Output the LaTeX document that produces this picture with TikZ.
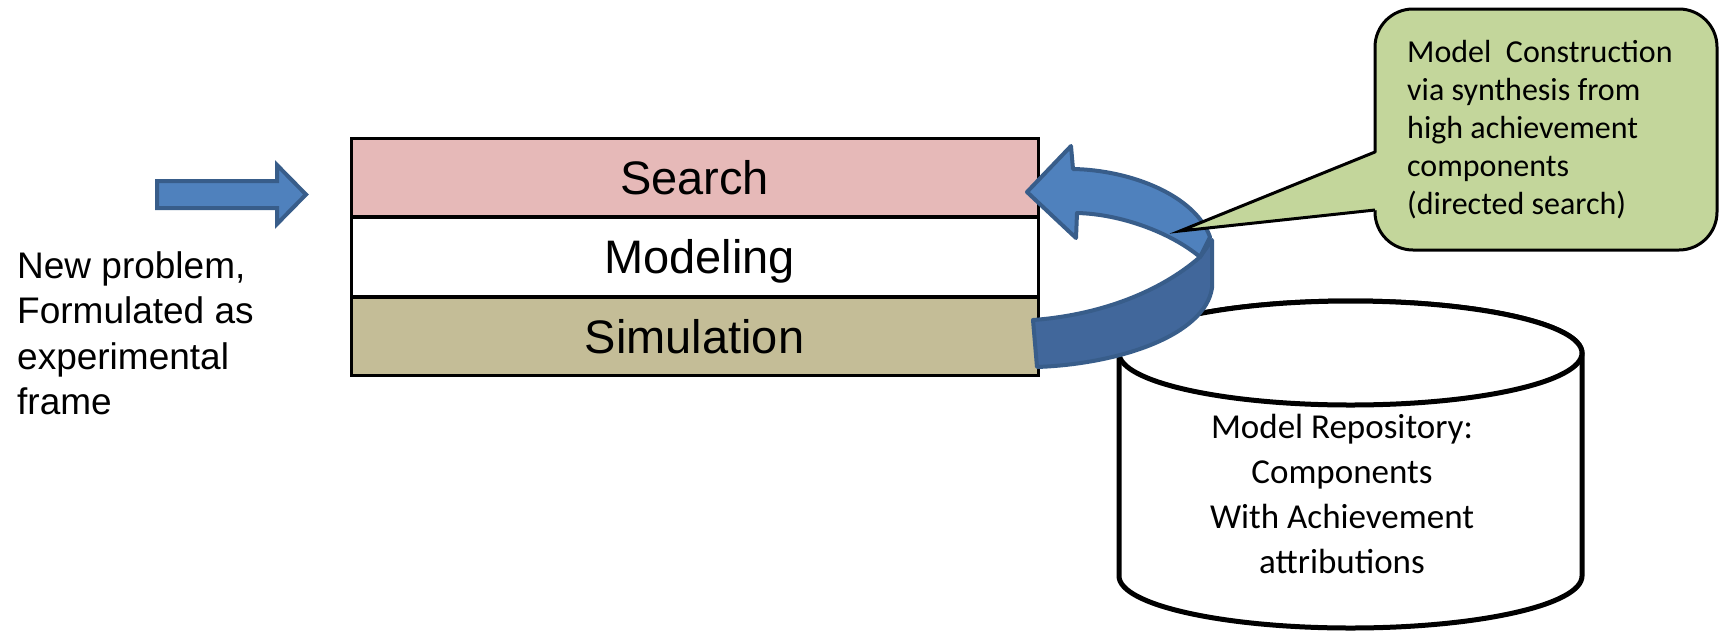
\documentclass[tikz,border=0pt]{standalone}
\usepackage{fontspec}
\setmainfont{Liberation Sans}
\newfontfamily\calib{Carlito}
\definecolor{arrowblue}{HTML}{4F81BD}
\definecolor{arrowline}{HTML}{385D8A}
\definecolor{arrowdark}{HTML}{41679B}
\definecolor{searchpink}{HTML}{E6B9B8}
\definecolor{simtan}{HTML}{C4BD97}
\definecolor{calloutgreen}{HTML}{C3D69B}
\begin{document}
\begin{tikzpicture}[x=1pt,y=-1pt,
  layerbox/.style={draw=black, line width=3pt, minimum width=687pt, inner sep=0pt,
    text height=44pt, text depth=10pt, font=\fontsize{47}{56}\selectfont},
  blockarrow/.style={fill=arrowblue, draw=arrowline, line width=4pt, line join=round},
  darkband/.style={fill=arrowdark, draw=arrowline, line width=4pt, line join=round},
  cyl/.style={draw=black, line width=5pt, fill=white},
  calloutbox/.style={draw=black, line width=3pt, fill=calloutgreen}]
\useasboundingbox (0,0) rectangle (1719,633);

% layered boxes
\node[layerbox, fill=searchpink, minimum height=78pt] (search) at (694.5,177) {Search};
\node[layerbox, fill=white, minimum height=79pt] (modeling) at (694.5,256.5) {\hspace*{10pt}Modeling};
\node[layerbox, fill=simtan, minimum height=78pt] (simulation) at (694.5,336) {Simulation};

% input arrow
\draw[blockarrow, line join=miter] (157,181) -- (277,181) -- (277,165) -- (306,194.5)
  -- (277,224) -- (277,208) -- (157,208) -- cycle;

% left text (base anchor = baseline of the last line)
\node[anchor=base west, align=left, inner sep=0pt, font=\fontsize{37}{45.5}\selectfont]
  (problem) at (17,414.5) {New problem,\\Formulated as\\experimental\\frame};

% cylinder
\filldraw[cyl] (1119,353) -- (1119,576)
  arc[start angle=180, end angle=360, x radius=231.5pt, y radius=52pt]
  -- (1582,353)
  arc[start angle=0, end angle=180, x radius=231.5pt, y radius=52pt] -- cycle;
\draw[cyl] (1350.5,353) ellipse[x radius=231.5pt, y radius=52pt];
\node[anchor=base, align=center, inner sep=0pt, font=\calib\fontsize{35}{45}\selectfont]
  (repo) at (1342,573) {Model Repository:\\Components\\With Achievement\\attributions};

% curved arrow (lower, darker band)
\draw[darkband] (1200,257) .. controls (1160,292) and (1100,315) .. (1033,320)
  -- (1037,367) .. controls (1120,364) and (1205,335) .. (1212,288)
  -- (1212,240) -- cycle;
% curved arrow (upper band with head)
\draw[blockarrow] (1027,192) -- (1071,146) -- (1073,169)
  .. controls (1130,170) and (1195,195) .. (1210,237)
  -- (1200,257) .. controls (1170,232) and (1120,214) .. (1077,213)
  -- (1076,238) -- cycle;

% callout
\draw[calloutbox, rounded corners=38pt] (1375,9) rectangle (1717,250);
\fill[calloutgreen] (1378,152) -- (1180,231) -- (1378,210) -- cycle;
\draw[line width=3pt, line join=miter] (1375,152) -- (1180,231) -- (1375,210);
\node[anchor=base west, align=left, inner sep=0pt, font=\calib\fontsize{32}{38}\selectfont]
  (callouttext) at (1407,214) {Model\ \ Construction\\via synthesis from\\high achievement\\components\\(directed search)};
\end{tikzpicture}
\end{document}
